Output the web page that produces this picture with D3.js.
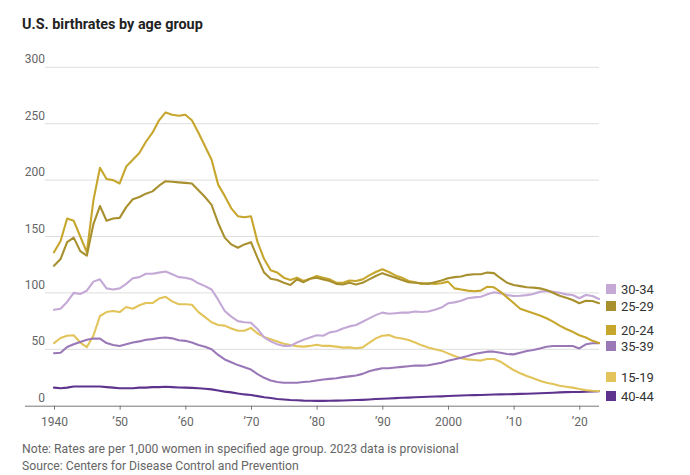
<!DOCTYPE html>
<html>
<head>
<meta charset="utf-8">
<script src="https://cdn.jsdelivr.net/npm/d3@7"></script>
<style>
  body { margin: 0; background: #fff; }
  svg { font-family: Roboto, "Noto Sans", sans-serif; }
  .grid line { stroke: #dedede; stroke-width: 1; }
  .tick-label { fill: #666; font-size: 12px; }
  .note { fill: #666; font-size: 12.2px; }
  .legend-label { fill: #333; font-size: 13px; }
  .series { fill: none; stroke-width: 2.1; stroke-linejoin: round; stroke-linecap: round; }
</style>
</head>
<body>
<div id="chart"></div>
<script>

///// Data (births per 1,000 women, 1940-2023)

let firstYear = 1940,
    lastYear = 2023;

let ages15to19 = [55.5, 60, 62, 62.5, 56, 52, 62, 79.5, 83, 84,
    83, 87.5, 86, 89, 91, 91, 95, 96.5, 92.5, 90,
    90, 89.5, 83, 78.5, 74, 71.5, 71, 68.5, 66.5, 66.5,
    69, 64, 61, 59, 57, 55, 53.8, 52.8, 52.4, 53,
    54, 53, 53, 52.4, 51.5, 51.7, 51, 51.7, 55.8, 59.7,
    62, 62.6, 60.5, 59.5, 58.2, 56, 53.5, 51.5, 50, 48.8,
    46.4, 44, 42, 41.1, 40.5, 40, 41.4, 41.4, 39, 35.2,
    31.6, 28.7, 26.3, 24.3, 22.2, 20.4, 19.2, 17.7, 16.8, 16,
    14.8, 13.8, 13.3, 13];

let ages20to24 = [136, 146, 166, 164, 150, 136, 182, 211, 201, 200,
    197, 212, 218, 224, 234, 242, 253, 260, 258, 257,
    258, 253, 242, 230, 218, 196, 186, 175, 168, 167,
    168, 145, 130, 120, 118, 113.5, 111.5, 113.5, 110.5, 112.5,
    115, 113.5, 112, 109, 109, 111, 110.5, 112, 115.5, 118.5,
    121, 118.5, 115.5, 113.5, 110.5, 109.5, 108, 108.5, 108, 108.5,
    110, 104, 103, 102, 101.5, 102, 105.5, 105, 101, 96,
    91, 86, 84, 82, 80, 77.5, 74.5, 71, 68, 65.5,
    62.5, 60.5, 57.5, 55.5];

let ages25to29 = [124, 130, 145, 149, 137, 133, 161, 177, 164, 166,
    166.5, 176, 183, 185, 188, 190, 195, 199, 198.5, 198,
    197.5, 197, 191, 185, 178, 162, 149, 143, 140, 143,
    145, 131, 118, 112.5, 111.5, 109, 107, 112, 109.5, 112.5,
    113.5, 112, 110.5, 108, 107.5, 109, 107.5, 109, 112, 115,
    117.5, 115.5, 113.5, 111.5, 109.5, 109, 108.5, 108, 109.5, 111,
    113, 114, 114.5, 116, 116.5, 116.5, 118, 117.5, 113, 109,
    107, 106, 105, 104.7, 104, 102.6, 100.2, 97.5, 95.8, 93.7,
    90.8, 93, 92.8, 90.8];

let ages30to34 = [85, 86, 92, 100, 99, 102, 110, 112, 104, 103,
    104, 108, 113, 114, 117, 117, 118, 119, 116.5, 114,
    113.5, 112, 108.5, 106, 103, 94, 84, 79, 75, 74,
    73.5, 68, 60.5, 57, 54.5, 53, 53, 56, 58.5, 60.5,
    62.5, 62, 65, 66, 68.5, 70.3, 71.5, 74.4, 77.4, 80.3,
    82.5, 81.5, 82, 82.5, 82.5, 83.5, 83, 83.5, 85, 87,
    90.8, 91.6, 93, 95.2, 96, 96.6, 98.7, 100.5, 99.6, 98.1,
    97.2, 97.5, 98, 99, 101, 101.7, 101, 100.2, 98.7, 98.1,
    95.2, 98.1, 97.2, 94.6];

let ages35to39 = [46.5, 47, 52, 54.5, 56.5, 58.5, 59.5, 59.5, 55.5, 53.8,
    53, 54.5, 56, 57, 58.5, 59, 60, 60.5, 59.7, 58,
    57.5, 56, 53.8, 52.3, 50, 45, 41, 38.5, 36, 34,
    32, 28, 24.7, 22.4, 21, 20.3, 20.3, 20.3, 21, 21.5,
    22.4, 23.2, 23.8, 24.4, 25.3, 26, 26.8, 28.2, 30.6, 32,
    33.2, 33.2, 33.8, 34.4, 35, 35.6, 35.5, 35.8, 37, 38.1,
    39.9, 41.1, 42.6, 44, 45.8, 47, 47.9, 47.9, 47, 45.8,
    45.5, 47, 48.5, 49.4, 50.8, 52.3, 52.9, 52.9, 52.9, 52.9,
    50.8, 54.4, 55.3, 55.3];

let ages40to44 = [16, 15.5, 16, 17, 17, 17, 17, 17, 16.5, 16,
    15.5, 15.5, 15.5, 16, 16, 16.5, 16.5, 16.8, 16.5, 16.2,
    16, 15.8, 15.5, 15, 14.5, 13.5, 12.5, 11.8, 10.8, 10,
    9.5, 8.5, 7.5, 6.8, 6, 5.5, 5, 4.8, 4.5, 4.4,
    4.3, 4.3, 4.4, 4.5, 4.6, 4.8, 5, 5.2, 5.5, 5.9,
    6.2, 6.4, 6.7, 7, 7.2, 7.5, 7.7, 7.9, 8.1, 8.3,
    8.6, 8.8, 9, 9.3, 9.4, 9.5, 9.7, 9.9, 10, 10.1,
    10.3, 10.5, 10.6, 10.8, 11, 11.2, 11.5, 11.8, 12, 12.2,
    12.2, 12.5, 12.7, 12.8];

let yTicks = [0, 50, 100, 150, 200, 250, 300];
let xTicks = [1940, 1950, 1960, 1970, 1980, 1990, 2000, 2010, 2020];
let xTickLabels = ["1940", "\u201950", "\u201960", "\u201970", "\u201980", "\u201990", "2000", "\u201910", "\u201920"];

// legend order top to bottom, grouped next to where the lines end
let legendNames = ["30-34", "25-29", "20-24", "35-39", "15-19", "40-44"];
let legendRows = [289, 306, 330, 346, 377, 396];

let series = [
    { name: "40-44", values: ages40to44, color: "#5e338e" },
    { name: "15-19", values: ages15to19, color: "#e2c45a" },
    { name: "35-39", values: ages35to39, color: "#9a78b8" },
    { name: "30-34", values: ages30to34, color: "#c4a8d6" },
    { name: "20-24", values: ages20to24, color: "#c6a62c" },
    { name: "25-29", values: ages25to29, color: "#a8902f" }
];

///// Chart

let width = 690,
    height = 475;

let x = d3.scaleLinear().domain([firstYear, lastYear]).range([54, 599]);
let y = d3.scaleLinear().domain([0, 300]).range([405.7, 67.3]);

let svg = d3.select("#chart")
    .append("svg")
    .attr("width", width)
    .attr("height", height);

// title
svg.append("text")
    .attr("x", 22)
    .attr("y", 29)
    .style("font-size", "14.4px")
    .style("font-weight", "bold")
    .style("fill", "#222")
    .text("U.S. birthrates by age group");

// gridlines (no line at zero, the axis sits there)
svg.append("g")
    .attr("class", "grid")
    .selectAll("line")
    .data(yTicks.filter(d => d > 0))
    .join("line")
    .attr("x1", 45)
    .attr("x2", 599)
    .attr("y1", d => y(d))
    .attr("y2", d => y(d));

// y labels sit just above their line
svg.append("g")
    .selectAll("text")
    .data(yTicks)
    .join("text")
    .attr("class", "tick-label")
    .attr("x", 45)
    .attr("y", d => y(d) - 4)
    .attr("text-anchor", "end")
    .text(d => d);

// x axis
let xAxis = svg.append("g")
    .attr("transform", "translate(0," + y(0) + ")")
    .call(d3.axisBottom(x)
        .tickValues(xTicks)
        .tickSize(4)
        .tickFormat((d, i) => xTickLabels[i]));

xAxis.select(".domain")
    .attr("d", "M25,0.5H599")
    .attr("stroke", "#777");
xAxis.selectAll(".tick line").attr("stroke", "#777");
xAxis.selectAll(".tick text")
    .attr("class", "tick-label")
    .attr("dy", "1.1em")
    .style("font-family", "Roboto, sans-serif");

// lines
let line = d3.line()
    .x((d, i) => x(firstYear + i))
    .y(d => y(d));

svg.append("g")
    .selectAll("path")
    .data(series)
    .join("path")
    .attr("class", "series")
    .attr("stroke", d => d.color)
    .attr("d", d => line(d.values));

// legend
let colorByName = {};
series.forEach(s => colorByName[s.name] = s.color);

let legend = svg.append("g")
    .selectAll("g")
    .data(legendNames)
    .join("g")
    .attr("transform", (d, i) => "translate(606," + legendRows[i] + ")");

legend.append("rect")
    .attr("x", 0)
    .attr("y", -5)
    .attr("width", 10)
    .attr("height", 10)
    .attr("fill", d => colorByName[d]);

legend.append("text")
    .attr("class", "legend-label")
    .attr("x", 15)
    .attr("dy", "0.35em")
    .text(d => d);

// notes
svg.append("text")
    .attr("class", "note")
    .attr("x", 22)
    .attr("y", 453)
    .text("Note: Rates are per 1,000 women in specified age group. 2023 data is provisional");

svg.append("text")
    .attr("class", "note")
    .attr("x", 22)
    .attr("y", 470)
    .text("Source: Centers for Disease Control and Prevention");
</script>
</body>
</html>
